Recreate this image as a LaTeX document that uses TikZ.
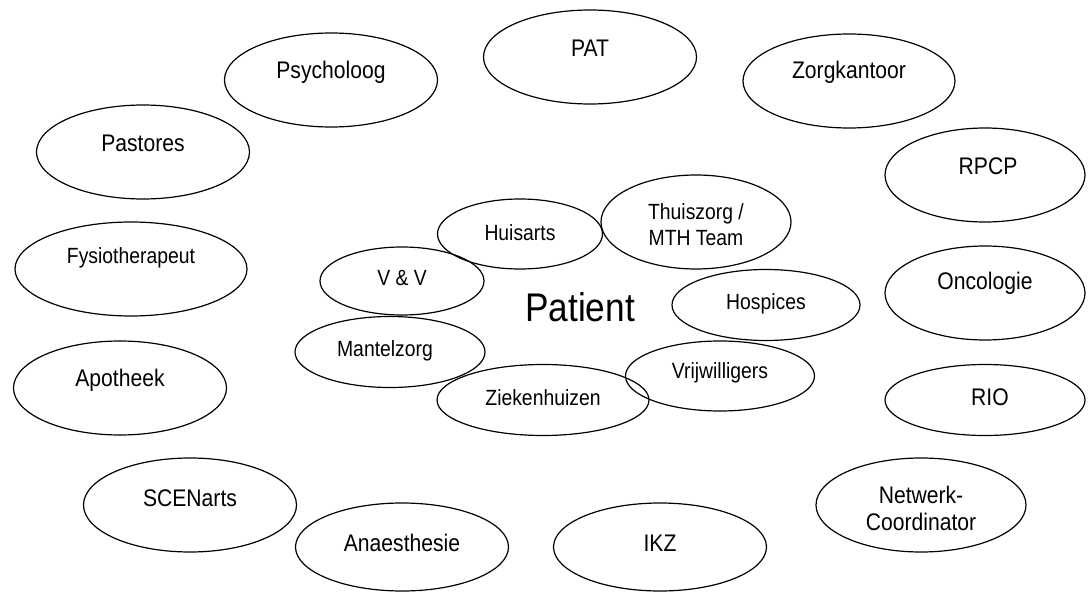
\documentclass[tikz,border=0pt]{standalone}
\usepackage{fontspec}
\setmainfont{Liberation Sans}[FakeStretch=0.88]
\usepackage{tikz}
\usetikzlibrary{shapes.geometric}
\tikzstyle{groot} = [
    ellipse,
    draw=black,
    line width=1.2pt,
    minimum width=213pt,
    minimum height=94pt,
    inner sep=0pt
]
\tikzstyle{klein} = [
    ellipse,
    draw=black,
    line width=1.2pt,
    minimum width=190pt,
    minimum height=71pt,
    inner sep=0pt
]
\tikzstyle{naam} = [
    font=\fontsize{24}{27}\selectfont,
    align=center,
    inner sep=0pt
]
\tikzstyle{naamklein} = [
    font=\fontsize{22}{26}\selectfont,
    align=center,
    inner sep=0pt
]

\begin{document}
\begin{tikzpicture}[x=1pt, y=-1pt]
        \useasboundingbox (0,0) rectangle (1088,596);
        \node[font=\fontsize{40}{44}\selectfont] (patient) at (580,307) {Patient};

        \node[groot] (pat) at (590,57) [label={[naam, yshift=9pt]center:PAT}] {};
        \node[groot] (psy) at (331,80) [label={[naam, yshift=8pt]center:Psycholoog}] {};
        \node[groot, minimum width=212pt] (zorg) at (849,81) [label={[naam, yshift=9pt]center:Zorgkantoor}] {};
        \node[groot] (pas) at (143,152) [label={[naam, yshift=9pt]center:Pastores}] {};
        \node[groot, minimum width=200pt] (rpcp) at (985,175) [label={[naam, yshift=9pt, xshift=3pt]center:RPCP}] {};
        \node[groot, minimum width=232pt] (fys) at (131,269) [label={[naamklein, yshift=11pt]center:Fysiotherapeut}] {};
        \node[groot, minimum width=200pt] (onco) at (985,293) [label={[naam, yshift=10pt]center:Oncologie}] {};
        \node[groot] (apo) at (120,388) [label={[naam, yshift=8pt]center:Apotheek}] {};
        \node[klein, minimum width=200pt] (rio) at (985,400) [label={[naam, yshift=3pt, xshift=5pt]center:RIO}] {};
        \node[groot] (scen) at (190,505) [label={[naam, yshift=7pt]center:SCENarts}] {};
        \node[groot, minimum width=210pt] (netw) at (921,505) [label={[naam, yshift=-3pt]center:{Netwerk-\\Coordinator}}] {};
        \node[groot, minimum height=88pt] (anaes) at (402,547) [label={[naam, yshift=4pt]center:Anaesthesie}] {};
        \node[groot, minimum height=88pt] (ikz) at (660,547) [label={[naam, yshift=4pt]center:IKZ}] {};

        \node[klein, minimum width=165pt, minimum height=70pt] (huis) at (520,234) [label={[naamklein, yshift=1pt]center:Huisarts}] {};
        \node[klein, minimum height=94pt] (thuis) at (696,222) [label={[naamklein, yshift=-3pt]center:{Thuiszorg /\\MTH Team}}] {};
        \node[klein, minimum width=164pt, minimum height=68pt] (vv) at (402,281) [label={[naamklein, yshift=3pt]center:V \& V}] {};
        \node[klein, minimum width=188pt] (hosp) at (766,305) [label={[naamklein, yshift=1pt]center:Hospices}] {};
        \node[klein] (mantel) at (390,352) [label={[naamklein, yshift=1pt, xshift=-5pt]center:Mantelzorg}] {};
        \node[klein, minimum width=189pt, minimum height=70pt] (vrij) at (720,376) [label={[naamklein, yshift=3pt]center:Vrijwilligers}] {};
        \node[klein, minimum width=212pt] (zieken) at (543,400) [label={[naamklein, yshift=2pt]center:Ziekenhuizen}] {};
    \end{tikzpicture}
\end{document}
